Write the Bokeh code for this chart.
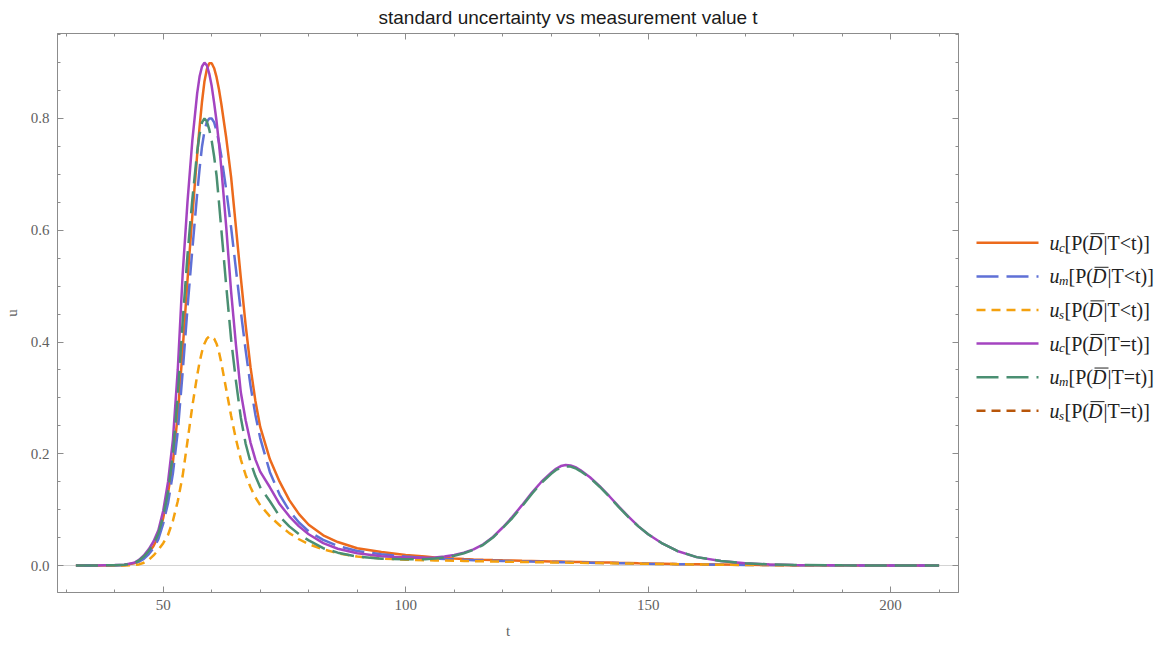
from bokeh.plotting import figure
from bokeh.models import Range1d, LinearAxis, Span, FixedTicker, ColumnDataSource, PrintfTickFormatter
from bokeh.layouts import row
from bokeh.embed import file_html
from bokeh.resources import INLINE
from bokeh.core.properties import value

# ---------------- data ----------------
t = [32, 36, 40, 42, 44, 45, 46, 47, 48, 49,
     50, 51, 52, 53, 54, 55, 56, 57, 57.5, 58,
     58.5, 59, 59.5, 60, 60.5, 61, 61.5, 62, 63, 64,
     65, 66, 67, 68, 69, 70, 72, 74, 76, 78,
     80, 83, 86, 90, 95,
     100, 102, 104, 106, 108, 110, 112, 114, 116, 118,
     120, 122, 124, 126, 128, 130, 131, 132, 133, 134,
     135, 136, 138, 140, 142, 144, 146, 148, 150, 153,
     156, 160, 165, 170, 175, 180, 190, 200, 210]

uc_lt = [0, 0, 0.0005, 0.001, 0.004, 0.008, 0.014, 0.023, 0.035, 0.052,
         0.085, 0.13, 0.185, 0.27, 0.385, 0.51, 0.625, 0.735, 0.785, 0.83,
         0.866, 0.888, 0.899, 0.899, 0.89, 0.874, 0.852, 0.825, 0.765, 0.695,
         0.605, 0.515, 0.43, 0.355, 0.295, 0.248, 0.19, 0.15, 0.117, 0.092,
         0.073, 0.054, 0.042, 0.031, 0.024,
         0.019, 0.0175, 0.016, 0.0145, 0.0135, 0.0125, 0.0116, 0.0108, 0.0102, 0.0097,
         0.0093, 0.009, 0.0085, 0.0081, 0.0077, 0.0073, 0.0071, 0.007, 0.0068, 0.0066,
         0.0064, 0.0062, 0.0058, 0.0055, 0.0052, 0.0048, 0.0045, 0.0041, 0.0038, 0.0033,
         0.0028, 0.0023, 0.0017, 0.0012, 0.0009, 0.0006, 0.0003, 0.0001, 0]

um_lt = [0, 0, 0.0004, 0.001, 0.003, 0.007, 0.012, 0.02, 0.031, 0.047,
         0.075, 0.112, 0.165, 0.24, 0.345, 0.46, 0.565, 0.665, 0.71, 0.75,
         0.777, 0.794, 0.80, 0.80, 0.793, 0.778, 0.757, 0.732, 0.672, 0.605,
         0.53, 0.455, 0.385, 0.322, 0.27, 0.228, 0.167, 0.127, 0.098, 0.077,
         0.061, 0.046, 0.035, 0.026, 0.02,
         0.016, 0.0147, 0.0135, 0.0125, 0.0117, 0.011, 0.0102, 0.0096, 0.009, 0.0086,
         0.0082, 0.0078, 0.0074, 0.007, 0.0067, 0.0063, 0.0062, 0.006, 0.0058, 0.0057,
         0.0055, 0.0053, 0.005, 0.0047, 0.0045, 0.0042, 0.0039, 0.0036, 0.0033, 0.0029,
         0.0024, 0.002, 0.0015, 0.0011, 0.0008, 0.0005, 0.0002, 0.0001, 0]

us_lt = [0, 0, 0, 0.0002, 0.001, 0.002, 0.005, 0.01, 0.018, 0.028,
         0.04, 0.055, 0.08, 0.115, 0.16, 0.222, 0.285, 0.34, 0.364, 0.383,
         0.397, 0.406, 0.41, 0.41, 0.406, 0.397, 0.382, 0.362, 0.315, 0.268,
         0.226, 0.19, 0.162, 0.14, 0.122, 0.108, 0.088, 0.072, 0.058, 0.047,
         0.038, 0.029, 0.022, 0.016, 0.0125,
         0.0105, 0.01, 0.0095, 0.0091, 0.0088, 0.0085, 0.0082, 0.0078, 0.0075, 0.0072,
         0.0069, 0.0066, 0.0063, 0.006, 0.0058, 0.0055, 0.0054, 0.0053, 0.0052, 0.0051,
         0.005, 0.0048, 0.0046, 0.0043, 0.0041, 0.0038, 0.0036, 0.0033, 0.0031, 0.0027,
         0.0023, 0.0019, 0.0014, 0.001, 0.0007, 0.0005, 0.0002, 0.0001, 0]

uc_eq = [0, 0, 0.0007, 0.0015, 0.005, 0.01, 0.018, 0.029, 0.043, 0.063,
         0.098, 0.15, 0.225, 0.35, 0.52, 0.65, 0.76, 0.845, 0.875, 0.893,
         0.90, 0.895, 0.88, 0.858, 0.828, 0.795, 0.755, 0.71, 0.605, 0.49,
         0.395, 0.31, 0.26, 0.22, 0.19, 0.168, 0.14, 0.11, 0.088, 0.07,
         0.056, 0.04, 0.03, 0.022, 0.0165,
         0.0145, 0.0139, 0.0138, 0.0145, 0.016, 0.019, 0.023, 0.029, 0.038, 0.051,
         0.068, 0.087, 0.108, 0.13, 0.15, 0.166, 0.173, 0.178, 0.18, 0.179,
         0.176, 0.171, 0.158, 0.142, 0.124, 0.105, 0.087, 0.07, 0.056, 0.039,
         0.026, 0.015, 0.008, 0.004, 0.002, 0.001, 0.0003, 0.0001, 0]

um_eq = [0, 0, 0.0006, 0.0013, 0.004, 0.009, 0.016, 0.026, 0.039, 0.057,
         0.088, 0.133, 0.2, 0.305, 0.435, 0.555, 0.655, 0.74, 0.772, 0.793,
         0.80, 0.795, 0.78, 0.76, 0.732, 0.698, 0.65, 0.60, 0.50, 0.405,
         0.33, 0.265, 0.218, 0.185, 0.16, 0.14, 0.115, 0.088, 0.07, 0.056,
         0.045, 0.031, 0.023, 0.016, 0.012,
         0.0112, 0.011, 0.0112, 0.0125, 0.0145, 0.0175, 0.022, 0.028, 0.037, 0.05,
         0.067, 0.085, 0.106, 0.128, 0.148, 0.164, 0.171, 0.175, 0.177, 0.177,
         0.174, 0.169, 0.157, 0.141, 0.123, 0.104, 0.086, 0.07, 0.056, 0.039,
         0.026, 0.015, 0.008, 0.004, 0.002, 0.001, 0.0003, 0.0001, 0]

us_eq = []  # listed in the legend, not visible in the plot

x_major = [50, 100, 150, 200]
x_minor = [30, 40, 60, 70, 80, 90, 110, 120, 130, 140, 160, 170, 180, 190, 210]
y_major = [0.0, 0.2, 0.4, 0.6, 0.8]
y_minor = [-0.05, 0.05, 0.1, 0.15, 0.25, 0.3, 0.35, 0.45, 0.5, 0.55, 0.65, 0.7, 0.75, 0.85, 0.9, 0.95]

series = [
    ("uc_lt", "c", "<", "#EC6A1C", "solid"),
    ("um_lt", "m", "<", "#5F70D6", "22 8"),
    ("us_lt", "s", "<", "#F4A10E", "9 6"),
    ("uc_eq", "c", "=", "#A444C0", "solid"),
    ("um_eq", "m", "=", "#4A8F72", "22 8"),
    ("us_eq", "s", "=", "#B8560A", "9 6"),
]

src = ColumnDataSource(dict(t=t, uc_lt=uc_lt, um_lt=um_lt, us_lt=us_lt, uc_eq=uc_eq, um_eq=um_eq))

FRAME = "#8c8c8c"
TICKC = "#606060"
SERIF = "Liberation Serif"

p = figure(width=970, height=645,
           x_range=Range1d(28.2, 214.0), y_range=Range1d(-0.0483, 0.9521),
           x_axis_type=None, y_axis_type=None,
           output_backend="svg", toolbar_location=None,
           min_border_left=56, min_border_right=12, min_border_top=33, min_border_bottom=53,
           title="standard uncertainty vs measurement value t")
p.outline_line_color = FRAME
p.background_fill_color = "white"
p.border_fill_color = "white"

p.title.align = "left"
p.title.offset = 321
p.title.text_font = "Liberation Sans"
p.title.text_font_size = "19px"
p.title.text_font_style = "normal"
p.title.text_color = "#1a1a1a"
p.title.vertical_align = "top"
p.title.standoff = 8

def style_axis(ax, labels):
    ax.axis_line_color = FRAME
    ax.major_tick_line_color = FRAME
    ax.minor_tick_line_color = FRAME
    ax.major_tick_in = 6
    ax.major_tick_out = 0
    ax.minor_tick_in = 3
    ax.minor_tick_out = 0
    if labels:
        ax.major_label_text_font = SERIF
        ax.major_label_text_font_size = "15px"
        ax.major_label_text_color = TICKC
        ax.axis_label_text_font = SERIF
        ax.axis_label_text_font_size = "15px"
        ax.axis_label_text_font_style = "normal"
        ax.axis_label_text_color = TICKC
    else:
        ax.major_label_text_font_size = "1px"
        ax.major_label_text_color = None
        ax.major_label_standoff = 0

xb = LinearAxis(ticker=FixedTicker(ticks=x_major, minor_ticks=x_minor), axis_label="t")
style_axis(xb, True)
xb.major_label_standoff = 7
xb.axis_label_standoff = 10
p.add_layout(xb, "below")
xt = LinearAxis(ticker=FixedTicker(ticks=x_major, minor_ticks=x_minor))
style_axis(xt, False)
p.add_layout(xt, "above")

yl = LinearAxis(ticker=FixedTicker(ticks=y_major, minor_ticks=y_minor), axis_label="u",
                formatter=PrintfTickFormatter(format="%.1f"))
style_axis(yl, True)
yl.major_label_standoff = 8
yl.axis_label_standoff = 8
p.add_layout(yl, "left")
yr = LinearAxis(ticker=FixedTicker(ticks=y_major, minor_ticks=y_minor))
style_axis(yr, False)
p.add_layout(yr, "right")

p.add_layout(Span(location=0, dimension="width", line_color="#d4d4d4", line_width=1, level="underlay"))

for key, sub, rel, col, dash in series:
    if key in src.data:
        p.line(x="t", y=key, source=src, line_color=col, line_width=2.5, line_dash=dash)

# ---------------- legend panel ----------------
leg = figure(width=196, height=645, x_range=Range1d(970, 1166), y_range=Range1d(645, 0),
             x_axis_type=None, y_axis_type=None, output_backend="svg", toolbar_location=None,
             min_border=0, outline_line_color=None)
leg.background_fill_color = "white"
leg.border_fill_color = "white"

TXT = "#222222"
FS = "20px"
row_y0 = 241.5
row_dy = 38.75
for i, (key, sub, rel, col, dash) in enumerate(series):
    y = row_y0 + i * row_dy
    leg.line(x=[976, 1038], y=[y, y], line_color=col, line_width=2.5, line_dash=dash)
    xs = 1064 if sub != "m" else 1068
    leg.text(x=[1049], y=[y], text=["u"], text_font=value(SERIF), text_font_style="italic",
             text_font_size=FS, text_baseline="middle", text_color=TXT)
    leg.text(x=[1058.5], y=[y + 5], text=[sub], text_font=value(SERIF), text_font_style="italic",
             text_font_size="13px", text_baseline="middle", text_color=TXT)
    leg.text(x=[xs], y=[y], text=["[P("], text_font=value(SERIF), text_font_style="normal",
             text_font_size=FS, text_baseline="middle", text_color=TXT)
    leg.text(x=[xs + 23.5], y=[y], text=["D"], text_font=value(SERIF), text_font_style="italic",
             text_font_size=FS, text_baseline="middle", text_color=TXT)
    leg.segment(x0=[xs + 26], y0=[y - 10.5], x1=[xs + 40], y1=[y - 10.5], line_color=TXT, line_width=1)
    leg.text(x=[xs + 39], y=[y], text=["|T" + rel + "t)]"], text_font=value(SERIF), text_font_style="normal",
             text_font_size=FS, text_baseline="middle", text_color=TXT)

layout = row(p, leg)
open("out.html", "w").write(file_html(layout, INLINE))
